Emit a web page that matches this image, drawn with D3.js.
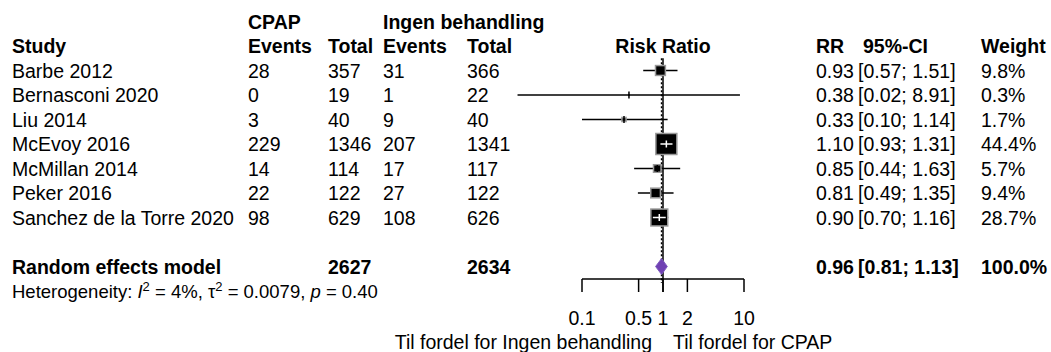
<!DOCTYPE html>
<html>
<head>
<meta charset="utf-8">
<script src="https://cdn.jsdelivr.net/npm/d3@7"></script>
<style>
  body { margin: 0; background: #fff; }
  text { font-family: "Liberation Sans", Arial, sans-serif; fill: #000; }
</style>
</head>
<body>
<div id="chart"></div>
<script>
// study data
var studies = ["Barbe 2012", "Bernasconi 2020", "Liu 2014", "McEvoy 2016", "McMillan 2014", "Peker 2016", "Sanchez de la Torre 2020"]
var evCpap = [28, 0, 3, 229, 14, 22, 98]
var nCpap = [357, 19, 40, 1346, 114, 122, 629]
var evIngen = [31, 1, 9, 207, 17, 27, 108]
var nIngen = [366, 22, 40, 1341, 117, 122, 626]
var rr = [0.93, 0.38, 0.33, 1.10, 0.85, 0.81, 0.90]
var lower = [0.57, 0.016, 0.10, 0.93, 0.44, 0.49, 0.70]
var upper = [1.51, 8.91, 1.14, 1.31, 1.63, 1.35, 1.16]
var weight = [9.8, 0.3, 1.7, 44.4, 5.7, 9.4, 28.7]

// pooled (random effects)
var pooled = [0.96, 0.81, 1.13]
var totals = [2627, 2634]
var ticks = [0.1, 0.5, 1, 2, 10]

var W = 1051, H = 352
var fs = 19.5

var svg = d3.select("#chart")
    .append("svg")
    .attr("width", W)
    .attr("height", H)

// columns
var col = { study: 12, ev1: 248, tot1: 328, ev2: 383, tot2: 467, rr: 816, ci: 858, w: 981 }

// rows
var y = d3.scaleLinear().domain([0, 1]).range([70.5, 95])
var x = d3.scaleLog().domain([0.1, 10]).range([582, 744])
var side = d3.scaleSqrt().domain([0, 44.4]).range([0, 21])

function txt(xp, yp, s, bold, size) {
    return svg.append("text")
        .attr("x", xp)
        .attr("y", yp)
        .attr("dy", "0.36em")
        .style("font-size", (size || fs) + "px")
        .style("font-weight", bold ? "bold" : "normal")
        .text(s)
}

// headers
txt(col.ev1, y(-2), "CPAP", true)
txt(col.ev2, y(-2), "Ingen behandling", true)
txt(col.study, y(-1), "Study", true)
txt(col.ev1, y(-1), "Events", true)
txt(col.tot1, y(-1), "Total", true)
txt(col.ev2, y(-1), "Events", true)
txt(col.tot2, y(-1), "Total", true)
txt(x(1), y(-1), "Risk Ratio", true).attr("text-anchor", "middle")
txt(col.rr, y(-1), "RR", true)
txt(863, y(-1), "95%-CI", true)
txt(col.w, y(-1), "Weight", true)

var f2 = d3.format(".2f")

// reference lines
svg.append("line")
    .attr("x1", x(1)).attr("x2", x(1))
    .attr("y1", y(-0.5)).attr("y2", 292)
    .attr("stroke", "#000").attr("stroke-width", 1.5)
svg.append("line")
    .attr("x1", x(pooled[0])).attr("x2", x(pooled[0]))
    .attr("y1", y(-0.5)).attr("y2", y(9) - 8)
    .attr("stroke", "#000").attr("stroke-width", 1.5)
    .attr("stroke-dasharray", "2,2")

studies.forEach(function(d, i) {
    var yy = y(i)
    txt(col.study, yy, d)
    txt(col.ev1, yy, evCpap[i])
    txt(col.tot1, yy, nCpap[i])
    txt(col.ev2, yy, evIngen[i])
    txt(col.tot2, yy, nIngen[i])
    txt(col.rr, yy, f2(rr[i]))
    txt(col.ci, yy, "[" + f2(lower[i]) + "; " + f2(upper[i]) + "]")
    txt(col.w, yy, weight[i].toFixed(1) + "%")

    // CI line
    svg.append("line")
        .attr("x1", x(lower[i])).attr("x2", x(upper[i]))
        .attr("y1", yy).attr("y2", yy)
        .attr("stroke", "#000").attr("stroke-width", 1.5)

    var s = side(weight[i])
    var cx = x(rr[i])
    svg.append("rect")
        .attr("x", cx - s / 2)
        .attr("y", yy - s / 2)
        .attr("width", s)
        .attr("height", s)
        .attr("fill", "#000")
        .attr("stroke", "#999")
        .attr("stroke-width", s > 3 ? 1.5 : 0)

    var inside = s > 12
    var tc = inside ? "#fff" : "#000"
    if (inside) {
        svg.append("line")
            .attr("x1", Math.max(x(lower[i]), cx - s / 2 + 2))
            .attr("x2", Math.min(x(upper[i]), cx + s / 2 - 2))
            .attr("y1", yy).attr("y2", yy)
            .attr("stroke", "#fff").attr("stroke-width", 1.5)
    }
    svg.append("line")
        .attr("x1", cx).attr("x2", cx)
        .attr("y1", yy - 3.5).attr("y2", yy + 3.5)
        .attr("stroke", tc).attr("stroke-width", 1.5)
})

// pooled row
var yp = y(8)
txt(col.study, yp, "Random effects model", true)
txt(col.tot1, yp, totals[0], true)
txt(col.tot2, yp, totals[1], true)
txt(col.rr, yp, f2(pooled[0]), true)
txt(col.ci, yp, "[" + f2(pooled[1]) + "; " + f2(pooled[2]) + "]", true)
txt(col.w, yp, "100.0%", true)

svg.append("polygon")
    .attr("points", [
        [x(pooled[1]), yp],
        [x(pooled[0]), yp - 8],
        [x(pooled[2]), yp],
        [x(pooled[0]), yp + 8]
    ].join(" "))
    .attr("fill", "#7041b3")
    .attr("stroke", "#7f5cc0")
    .attr("stroke-width", 1)

// heterogeneity
var het = txt(col.study, y(9), "", false, 18.5)
het.append("tspan").text("Heterogeneity: ")
het.append("tspan").style("font-style", "italic").text("I")
het.append("tspan").attr("baseline-shift", "super").style("font-size", "13px").text("2")
het.append("tspan").text(" = 4%, \u03c4")
het.append("tspan").attr("baseline-shift", "super").style("font-size", "13px").text("2")
het.append("tspan").text(" = 0.0079, ")
het.append("tspan").style("font-style", "italic").text("p")
het.append("tspan").text(" = 0.40")

// axis
var axisY = 279
svg.append("line")
    .attr("x1", x(0.1)).attr("x2", x(10))
    .attr("y1", axisY).attr("y2", axisY)
    .attr("stroke", "#000").attr("stroke-width", 1.5)
svg.selectAll(".tk")
    .data(ticks)
    .enter()
    .append("line")
    .attr("x1", function(d) { return x(d) })
    .attr("x2", function(d) { return x(d) })
    .attr("y1", axisY)
    .attr("y2", axisY + 13)
    .attr("stroke", "#000").attr("stroke-width", 1.5)
ticks.forEach(function(d) {
    txt(x(d), 318, d3.format("~g")(d)).attr("text-anchor", "middle")
})

txt(652, 342, "Til fordel for Ingen behandling").attr("text-anchor", "end")
txt(673, 342, "Til fordel for CPAP")
</script>
</body>
</html>
